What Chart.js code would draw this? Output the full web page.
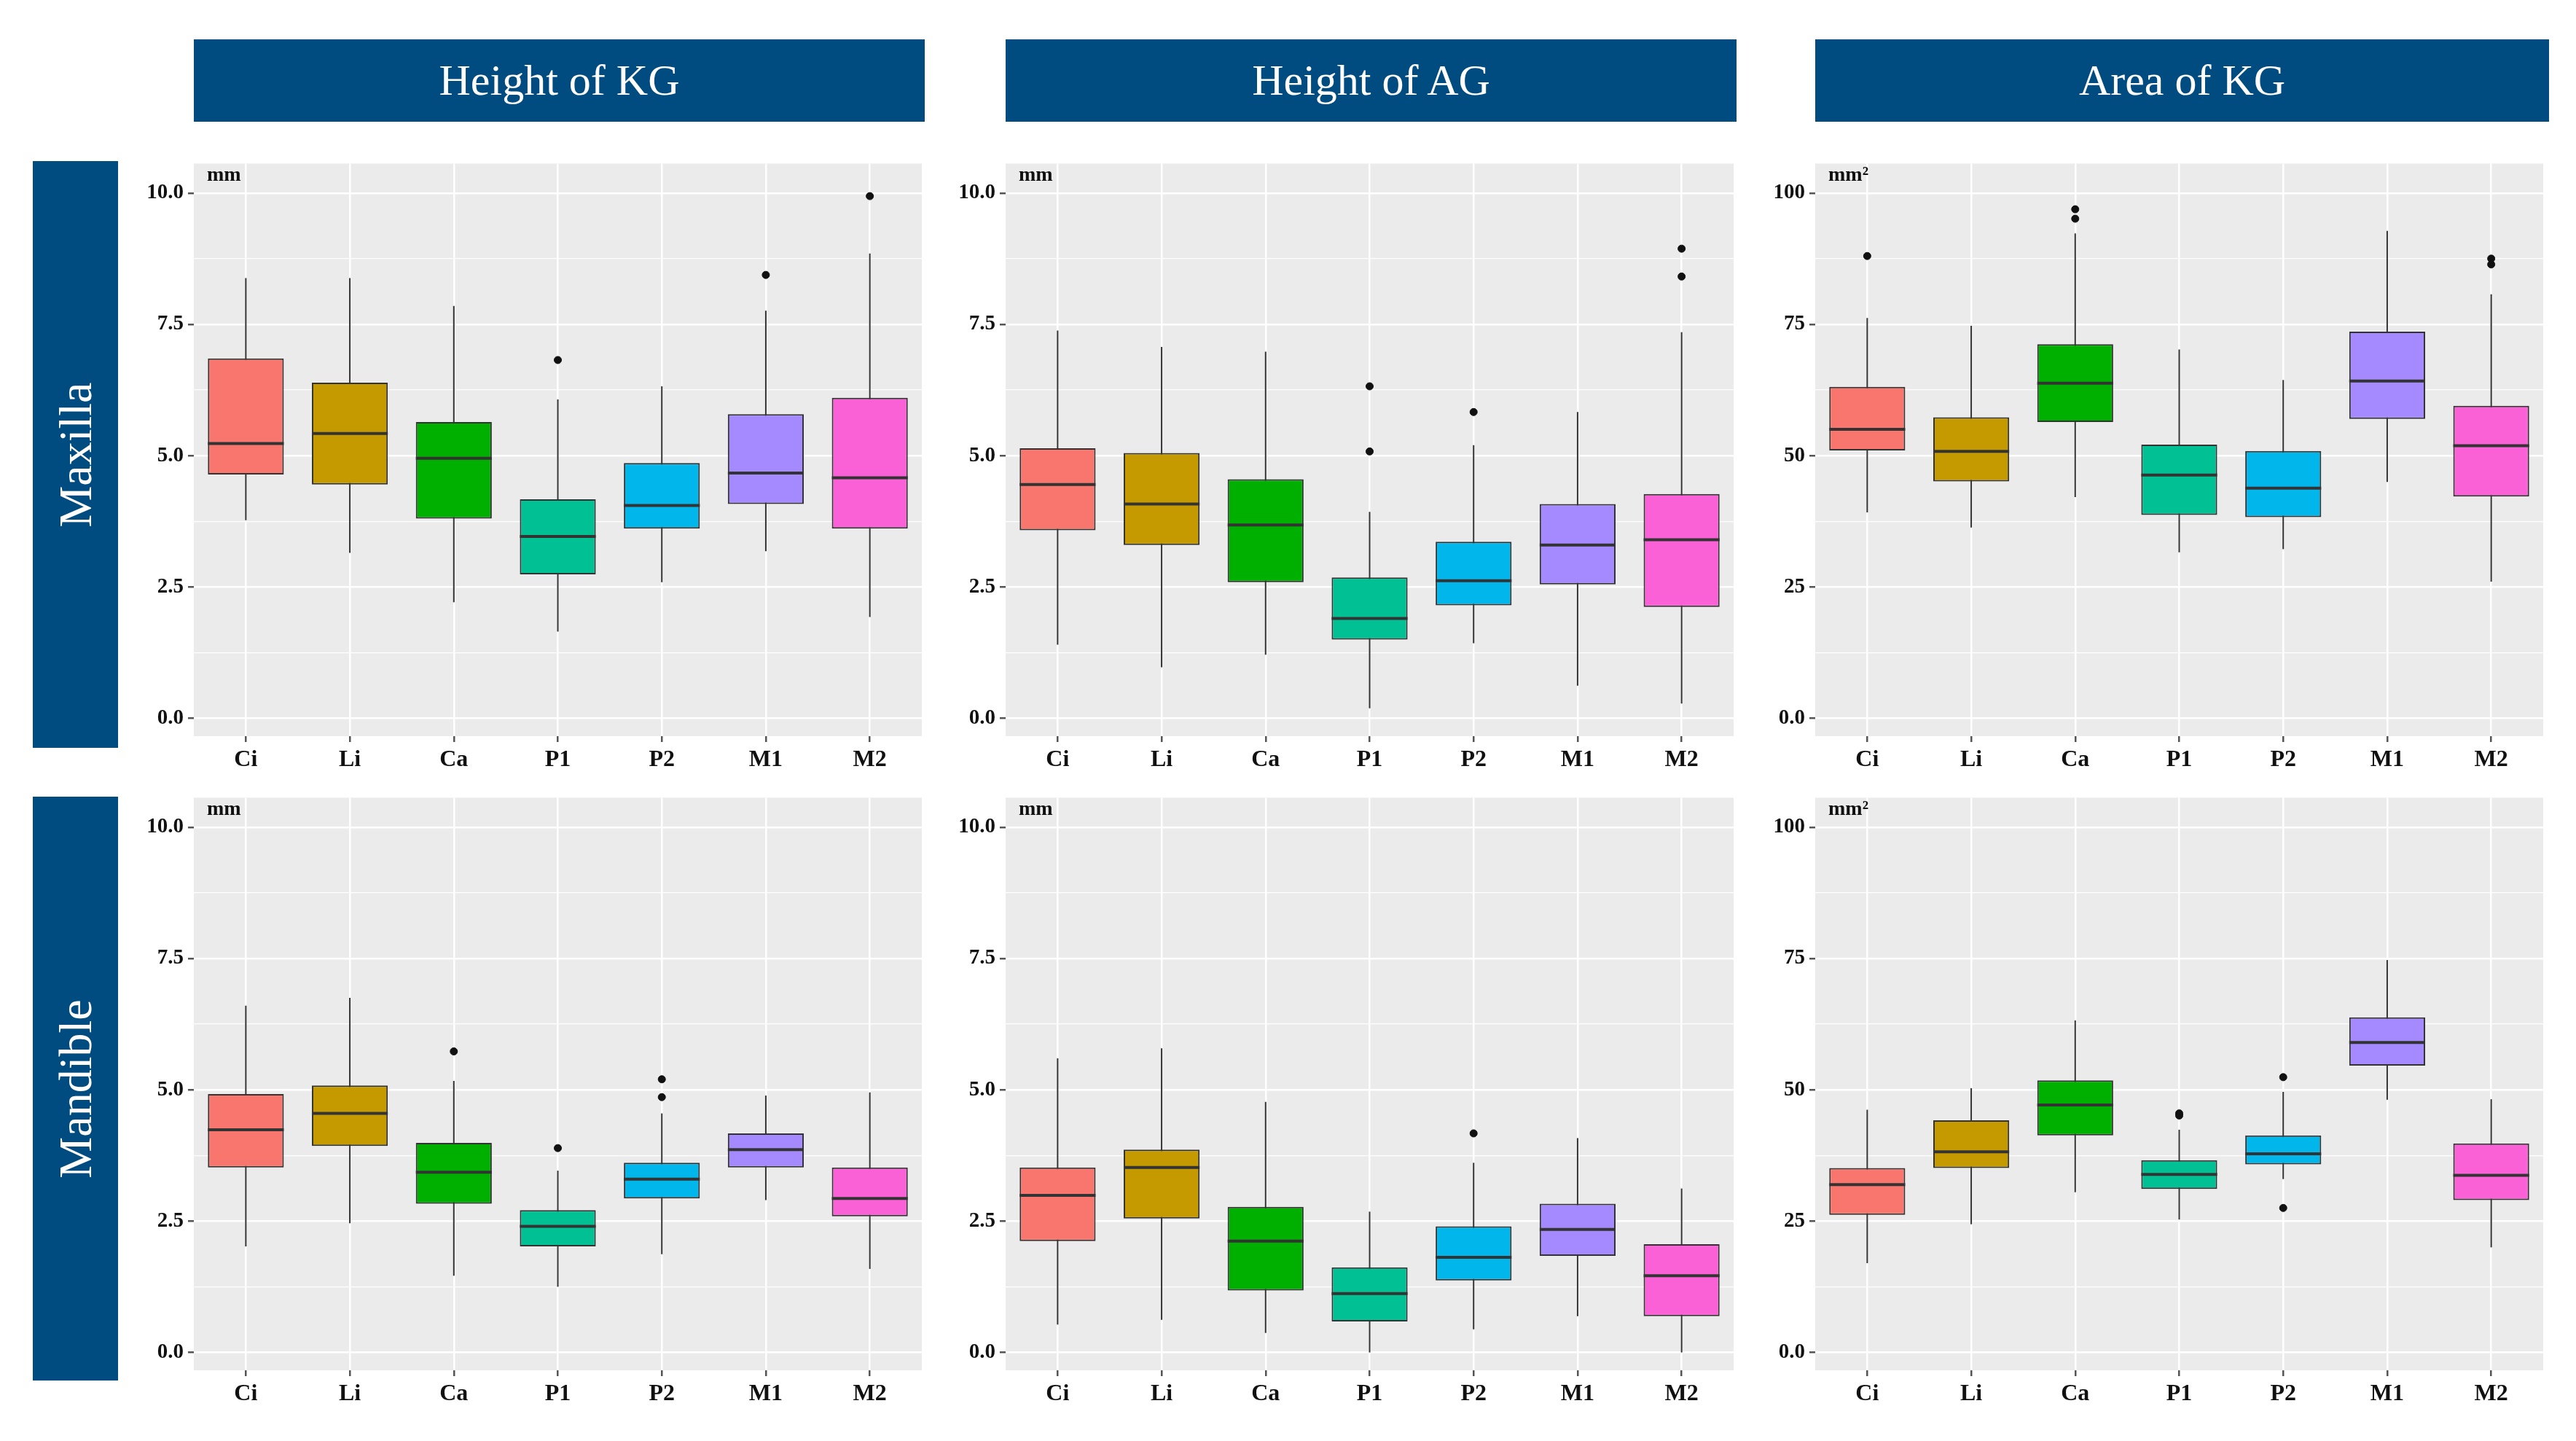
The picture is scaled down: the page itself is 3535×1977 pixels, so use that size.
<!DOCTYPE html>
<html>
<head>
<meta charset="utf-8">
<script src="https://cdn.jsdelivr.net/npm/chart.js@4/dist/chart.umd.min.js"></script>
<style>
  body { margin: 0; background: #fff; width: 3535px; height: 1977px; position: relative; overflow: hidden; }
  .hdr { position: absolute; background: #004b7f; color: #fff; font-family: "Liberation Serif", serif;
         font-size: 60px; display: flex; align-items: center; justify-content: center; }
  .row { position: absolute; background: #004b7f; color: #fff; font-family: "Liberation Serif", serif; font-size: 64px; }
  .row span { position: absolute; left: 50%; top: 50%; transform: translate(-50%, -50%) rotate(-90deg); white-space: nowrap; }
  canvas { position: absolute; }
</style>
</head>
<body>
<div class="hdr" style="left:266px;top:54px;width:1003px;height:113px">Height of KG</div>
<div class="hdr" style="left:1380px;top:54px;width:1003px;height:113px">Height of AG</div>
<div class="hdr" style="left:2491px;top:54px;width:1007px;height:113px">Area of KG</div>
<div class="row" style="left:45px;top:221px;width:117px;height:805px"><span>Maxilla</span></div>
<div class="row" style="left:45px;top:1093px;width:117px;height:801px"><span>Mandible</span></div>

<canvas id="c0"></canvas><canvas id="c1"></canvas><canvas id="c2"></canvas>
<canvas id="c3"></canvas><canvas id="c4"></canvas><canvas id="c5"></canvas>

<script>
// teeth
var teeth = ['Ci', 'Li', 'Ca', 'P1', 'P2', 'M1', 'M2'];
var colors = ['#F8766D', '#C49A00', '#00B000', '#00C094', '#00B6EB', '#A58AFF', '#FB61D7'];
var mmTicks = ['0.0', '2.5', '5.0', '7.5', '10.0'];
var areaTicks = ['0.0', '25', '50', '75', '100'];

// each row per tooth: [lower whisker, q1, median, q3, upper whisker]
var kgMax = [[3.77,4.64,5.23,6.85,8.38],[3.15,4.45,5.42,6.39,8.38],[2.21,3.80,4.95,5.64,7.85],
  [1.65,2.74,3.46,4.17,6.07],[2.59,3.61,4.05,4.86,6.32],[3.18,4.08,4.67,5.79,7.76],[1.93,3.61,4.58,6.10,8.85]];
var agMax = [[1.40,3.58,4.45,5.14,7.38],[0.97,3.30,4.08,5.05,7.07],[1.21,2.59,3.68,4.55,6.98],
  [0.19,1.50,1.90,2.68,3.93],[1.43,2.15,2.62,3.36,5.20],[0.62,2.55,3.30,4.08,5.83],[0.28,2.12,3.40,4.27,7.35]];
var areaMax = [[39.2,51.0,55.0,63.1,76.2],[36.3,45.1,50.8,57.3,74.7],[42.1,56.4,63.8,71.2,92.3],
  [31.6,38.7,46.3,52.1,70.2],[32.2,38.3,43.8,50.9,64.4],[45.0,57.0,64.2,73.6,92.8],[26.0,42.2,51.9,59.5,80.7]];
var kgMan = [[2.02,3.52,4.24,4.92,6.60],[2.46,3.93,4.55,5.08,6.75],[1.46,2.83,3.43,3.99,5.17],
  [1.25,2.02,2.40,2.71,3.46],[1.87,2.93,3.30,3.61,4.55],[2.90,3.52,3.86,4.17,4.89],[1.59,2.59,2.93,3.52,4.95]];
var agMan = [[0.53,2.12,2.99,3.52,5.60],[0.62,2.55,3.52,3.86,5.79],[0.37,1.18,2.12,2.77,4.77],
  [0.00,0.59,1.12,1.62,2.68],[0.44,1.37,1.81,2.40,3.61],[0.69,1.84,2.34,2.83,4.08],[0.00,0.69,1.46,2.06,3.12]];
var areaMan = [[17.0,26.2,31.95,35.1,46.2],[24.4,35.1,38.2,44.2,50.3],[30.5,41.3,47.1,51.8,63.2],
  [25.3,31.1,33.9,36.6,42.4],[33.0,35.8,37.8,41.3,49.6],[48.1,54.6,59.0,63.8,74.7],[20.0,29.0,33.7,39.8,48.2]];

// outliers: [tooth index, value]
var kgMaxOut = [[3,6.82],[5,8.44],[6,9.94]];
var agMaxOut = [[3,6.32],[3,5.08],[4,5.83],[6,8.94],[6,8.41]];
var areaMaxOut = [[0,88.0],[2,96.9],[2,95.1],[6,87.5],[6,86.4]];
var kgManOut = [[2,5.73],[3,3.89],[4,5.20],[4,4.86]];
var agManOut = [[4,4.17]];
var areaManOut = [[3,45.5],[3,45.1],[4,52.4],[4,27.5]];

var panels = [
  {id:'c0', stats:kgMax, out:kgMaxOut, area:false, x:266, y:221},
  {id:'c1', stats:agMax, out:agMaxOut, area:false, x:1380, y:221},
  {id:'c2', stats:areaMax, out:areaMaxOut, area:true, x:2491, y:221},
  {id:'c3', stats:kgMan, out:kgManOut, area:false, x:266, y:1091},
  {id:'c4', stats:agMan, out:agManOut, area:false, x:1380, y:1091},
  {id:'c5', stats:areaMan, out:areaManOut, area:true, x:2491, y:1091}
];

var font = '"Liberation Serif", serif';

var boxPlugin = {
  id: 'boxParts',
  beforeDraw: function (chart) {
    var a = chart.chartArea, ctx = chart.ctx;
    ctx.save();
    ctx.fillStyle = '#EBEBEB';
    ctx.fillRect(a.left, a.top, a.right - a.left, a.bottom - a.top);
    ctx.restore();
  },
  beforeDatasetsDraw: function (chart) {
    var st = chart.options.plugins.boxParts.stats, ctx = chart.ctx;
    var xs = chart.scales.x, ys = chart.scales.y;
    ctx.save();
    ctx.strokeStyle = '#333';
    ctx.lineWidth = 2;
    st.forEach(function (s, i) {
      var px = xs.getPixelForValue(i);
      ctx.beginPath();
      ctx.moveTo(px, ys.getPixelForValue(s[0]));
      ctx.lineTo(px, ys.getPixelForValue(s[4]));
      ctx.stroke();
    });
    ctx.restore();
  },
  afterDatasetsDraw: function (chart) {
    var o = chart.options.plugins.boxParts, ctx = chart.ctx;
    var ys = chart.scales.y;
    var meta = chart.getDatasetMeta(0);
    ctx.save();
    ctx.strokeStyle = '#333';
    ctx.lineWidth = 4;
    o.stats.forEach(function (s, i) {
      var bar = meta.data[i], half = bar.width / 2, py = ys.getPixelForValue(s[2]);
      ctx.beginPath();
      ctx.moveTo(bar.x - half, py);
      ctx.lineTo(bar.x + half, py);
      ctx.stroke();
    });
    ctx.fillStyle = '#111';
    ctx.font = 'bold 28px ' + font;
    ctx.textBaseline = 'top';
    ctx.fillText(o.unit, chart.chartArea.left + 18, chart.chartArea.top + 2);
    ctx.restore();
  }
};

panels.forEach(function (p) {
  var cv = document.getElementById(p.id);
  var W = 999 + 120 + 10, H = 789 + 75 + 20;
  cv.width = W; cv.height = H;
  cv.style.left = (p.x - 120) + 'px';
  cv.style.top = (p.y - 20) + 'px';
  cv.style.width = W + 'px'; cv.style.height = H + 'px';
  var step = p.area ? 12.5 : 1.25;
  var major = p.area ? 25 : 2.5;
  var labels = p.area ? areaTicks : mmTicks;
  new Chart(cv, {
    type: 'bar',
    data: {
      labels: teeth,
      datasets: [{
        data: p.stats.map(function (s) { return [s[1], s[3]]; }),
        backgroundColor: colors,
        borderColor: '#333',
        borderWidth: 2,
        borderSkipped: false,
        categoryPercentage: 1,
        barPercentage: 0.73
      }, {
        type: 'scatter',
        data: p.out.map(function (o) { return {x: teeth[o[0]], y: o[1]}; }),
        backgroundColor: '#111',
        borderColor: '#111',
        pointRadius: 5
      }]
    },
    options: {
      responsive: false,
      animation: false,
      devicePixelRatio: 1,
      layout: { padding: { top: 0, right: 10 } },
      plugins: {
        legend: { display: false },
        tooltip: { enabled: false },
        boxParts: { stats: p.stats, unit: p.area ? 'mm²' : 'mm' }
      },
      scales: {
        x: {
          type: 'category',
          offset: true,
          border: { display: false },
          grid: { offset: false, color: '#fff', lineWidth: 2.5, tickLength: 8, tickColor: '#555' },
          ticks: { color: '#111', font: { family: font, weight: 'bold', size: 32 }, padding: 6 },
          afterFit: function (s) { s.height = 75; }
        },
        y: {
          min: p.area ? -3.4 : -0.34,
          max: p.area ? 105.6 : 10.56,
          border: { display: false },
          afterBuildTicks: function (s) {
            var t = [];
            for (var k = 0; k <= 8; k++) t.push({ value: k * step });
            s.ticks = t;
          },
          grid: {
            color: '#fff',
            lineWidth: function (c) { return Math.abs(c.tick.value % major) < 1e-6 ? 2.5 : 1.2; },
            tickLength: 8,
            tickColor: function (c) { return Math.abs(c.tick.value % major) < 1e-6 ? '#555' : 'rgba(0,0,0,0)'; }
          },
          ticks: {
            autoSkip: false,
            color: '#111',
            font: { family: font, weight: 'bold', size: 29 },
            padding: 6,
            callback: function (v) {
              if (Math.abs(v % major) > 1e-6) return '';
              return labels[Math.round(v / major)];
            }
          },
          afterFit: function (s) { s.width = 120; }
        }
      }
    },
    plugins: [boxPlugin]
  });
});
</script>
</body>
</html>
